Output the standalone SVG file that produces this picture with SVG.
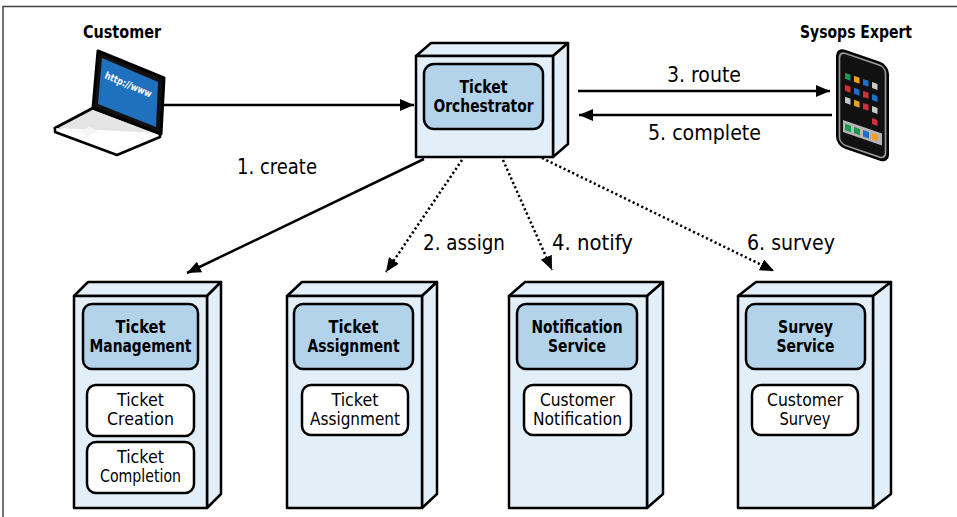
<svg xmlns="http://www.w3.org/2000/svg" width="957" height="517" viewBox="0 0 957 517">
  <defs>
    <style>
      .face { fill: #e3eff8; stroke: #000; stroke-width: 2.5; stroke-linejoin: round; }
      .hdr { fill: #b3d3ea; stroke: #000; stroke-width: 2.5; }
      .sub { fill: #fff; stroke: #000; stroke-width: 2.5; }
      .t { font-family: "DejaVu Sans Condensed", "DejaVu Sans", sans-serif; font-stretch: condensed; font-size: 18px; fill: #000; text-anchor: middle; }
      .s { font-size: 17px; }
      .b { font-weight: bold; }
      .lbl { font-family: "DejaVu Sans Condensed", "DejaVu Sans", sans-serif; font-stretch: condensed; font-size: 22px; fill: #000; }
      .conn { fill: none; stroke: #000; stroke-width: 2.5; }
      .dot { stroke-dasharray: 2.2 2.6; }
    </style>
    <marker id="arrow" viewBox="0 0 14 12" refX="14" refY="6" markerWidth="14" markerHeight="12" markerUnits="userSpaceOnUse" orient="auto">
      <path d="M0,0 L14,6 L0,12 Z" fill="#000"/>
    </marker>
  </defs>

  <rect width="957" height="517" fill="#fff"/>
  <!-- frame -->
  <path d="M3,517 V6.5 H957" fill="none" stroke="#444" stroke-width="1.5"/>

  <!-- Customer laptop -->
  <g id="customer">
    <text class="t b" x="122" y="38" textLength="78" lengthAdjust="spacingAndGlyphs">Customer</text>
    <path d="M93,108 L160,133 L117,151 L55,128 Z" fill="#e4e4e4" stroke="#000" stroke-width="3" stroke-linejoin="round"/>
    <path d="M55,128 L55,132 L117,155 L160,137 L160,133" fill="#fff" stroke="#000" stroke-width="2.5" stroke-linejoin="round"/>
    <path d="M77,132 L89,127 L99,131 L87,136 Z" fill="#f6f6f6"/>
    <path d="M98,51 L164,78 L161,134 L93,108 Z" fill="#111" stroke="#000" stroke-width="3" stroke-linejoin="round"/>
    <path d="M102,58 L158,82 L156,127 L98,104 Z" fill="#1f70bd"/>
    <text x="0" y="0" transform="translate(104,78) rotate(23)" font-family="DejaVu Sans Condensed, DejaVu Sans, sans-serif" font-size="10" font-weight="bold" fill="#fff" textLength="50" lengthAdjust="spacingAndGlyphs">http://www</text>
  </g>

  <!-- Sysops Expert phone -->
  <g id="sysops-expert">
    <text class="t b" x="856" y="38" textLength="112" lengthAdjust="spacingAndGlyphs">Sysops Expert</text>
    <g transform="translate(837,48) skewY(19)">
      <rect x="0" y="0" width="51" height="97" rx="8" fill="#111" stroke="#000" stroke-width="2"/>
      <rect x="2.5" y="2.5" width="46" height="92" rx="6" fill="none" stroke="#9a9a9a" stroke-width="1.6"/>
      <rect x="6" y="70" width="39" height="12" fill="#b5b5b5"/>
      <!-- row 1 -->
      <rect x="8" y="22" width="5.5" height="6" fill="#1a9a4a"/>
      <rect x="17" y="22" width="5.5" height="6" fill="#f0a020"/>
      <rect x="26" y="22" width="5.5" height="6" fill="#1c6fcb"/>
      <rect x="35" y="22" width="5.5" height="6" fill="#c8c8c8"/>
      <!-- row 2 -->
      <rect x="8" y="34" width="5.5" height="6" fill="#d0303a"/>
      <rect x="17" y="34" width="5.5" height="6" fill="#1c6fcb"/>
      <rect x="26" y="34" width="5.5" height="6" fill="#d0303a"/>
      <rect x="35" y="34" width="5.5" height="6" fill="#1c6fcb"/>
      <!-- row 3 -->
      <rect x="8" y="46" width="5.5" height="6" fill="#c8c8c8"/>
      <rect x="17" y="46" width="5.5" height="6" fill="#f0a020"/>
      <rect x="26" y="46" width="5.5" height="6" fill="#d0303a"/>
      <rect x="35" y="46" width="5.5" height="6" fill="#c8c8c8"/>
      <!-- row 4 -->
      <rect x="35" y="58" width="5.5" height="6" fill="#d0303a"/>
      <!-- dock -->
      <rect x="8" y="73" width="6" height="6.5" fill="#1a9a4a"/>
      <rect x="17" y="73" width="6" height="6.5" fill="#1a9a4a"/>
      <rect x="26" y="73" width="6" height="6.5" fill="#1c6fcb"/>
      <rect x="35" y="73" width="6" height="6.5" fill="#f0a020"/>
    </g>
  </g>

  <!-- Ticket Orchestrator -->
  <g id="ticket-orchestrator">
    <path class="face" d="M416,56 L431,43 L568,43 L553,56 Z"/>
    <path class="face" d="M553,56 L568,43 L568,144 L553,157 Z"/>
    <rect class="face" x="416" y="56" width="137" height="101"/>
    <rect class="hdr" x="424" y="64" width="119" height="65" rx="10"/>
    <text class="t b" x="483.5" y="93" textLength="48" lengthAdjust="spacingAndGlyphs">Ticket</text>
    <text class="t b" x="483.5" y="112" textLength="100" lengthAdjust="spacingAndGlyphs">Orchestrator</text>
  </g>

  <!-- Ticket Management -->
  <g id="ticket-management">
    <path class="face" d="M74,296 L88,282 L221,282 L207,296 Z"/>
    <path class="face" d="M207,296 L221,282 L221,494 L207,508 Z"/>
    <rect class="face" x="74" y="296" width="133" height="212"/>
    <rect class="hdr" x="83" y="304" width="115" height="65" rx="9"/>
    <text class="t b" x="140.5" y="333" textLength="50" lengthAdjust="spacingAndGlyphs">Ticket</text>
    <text class="t b" x="140.5" y="352" textLength="102" lengthAdjust="spacingAndGlyphs">Management</text>
    <rect class="sub" x="87" y="385" width="107" height="51" rx="9"/>
    <text class="t s" x="140.5" y="406" textLength="47" lengthAdjust="spacingAndGlyphs">Ticket</text>
    <text class="t s" x="140.5" y="425" textLength="67" lengthAdjust="spacingAndGlyphs">Creation</text>
    <rect class="sub" x="87" y="442" width="107" height="51" rx="9"/>
    <text class="t s" x="140.5" y="463" textLength="47" lengthAdjust="spacingAndGlyphs">Ticket</text>
    <text class="t s" x="140.5" y="482" textLength="81" lengthAdjust="spacingAndGlyphs">Completion</text>
  </g>

  <!-- Ticket Assignment -->
  <g id="ticket-assignment">
    <path class="face" d="M287,296 L302,282 L437,282 L422,296 Z"/>
    <path class="face" d="M422,296 L437,282 L437,494 L422,508 Z"/>
    <rect class="face" x="287" y="296" width="135" height="212"/>
    <rect class="hdr" x="294" y="304" width="119" height="65" rx="9"/>
    <text class="t b" x="353.5" y="333" textLength="50" lengthAdjust="spacingAndGlyphs">Ticket</text>
    <text class="t b" x="353.5" y="352" textLength="92" lengthAdjust="spacingAndGlyphs">Assignment</text>
    <rect class="sub" x="302" y="385" width="106" height="50" rx="9"/>
    <text class="t s" x="355" y="406" textLength="47" lengthAdjust="spacingAndGlyphs">Ticket</text>
    <text class="t s" x="355" y="425" textLength="90" lengthAdjust="spacingAndGlyphs">Assignment</text>
  </g>

  <!-- Notification Service -->
  <g id="notification-service">
    <path class="face" d="M509,296 L525,282 L663,282 L647,296 Z"/>
    <path class="face" d="M647,296 L663,282 L663,494 L647,508 Z"/>
    <rect class="face" x="509" y="296" width="138" height="212"/>
    <rect class="hdr" x="517" y="304" width="120" height="65" rx="9"/>
    <text class="t b" x="577" y="333" textLength="91" lengthAdjust="spacingAndGlyphs">Notification</text>
    <text class="t b" x="577" y="352" textLength="58" lengthAdjust="spacingAndGlyphs">Service</text>
    <rect class="sub" x="524" y="385" width="107" height="50" rx="9"/>
    <text class="t s" x="577.5" y="406" textLength="75" lengthAdjust="spacingAndGlyphs">Customer</text>
    <text class="t s" x="577.5" y="425" textLength="89" lengthAdjust="spacingAndGlyphs">Notification</text>
  </g>

  <!-- Survey Service -->
  <g id="survey-service">
    <path class="face" d="M738,296 L756,282 L891,282 L873,296 Z"/>
    <path class="face" d="M873,296 L891,282 L891,494 L873,508 Z"/>
    <rect class="face" x="738" y="296" width="135" height="212"/>
    <rect class="hdr" x="746" y="304" width="119" height="65" rx="9"/>
    <text class="t b" x="805.5" y="333" textLength="55" lengthAdjust="spacingAndGlyphs">Survey</text>
    <text class="t b" x="805.5" y="352" textLength="58" lengthAdjust="spacingAndGlyphs">Service</text>
    <rect class="sub" x="752" y="385" width="106" height="50" rx="9"/>
    <text class="t s" x="805" y="406" textLength="76" lengthAdjust="spacingAndGlyphs">Customer</text>
    <text class="t s" x="805" y="425" textLength="51" lengthAdjust="spacingAndGlyphs">Survey</text>
  </g>

  <!-- Connectors -->
  <g id="connectors">
    <path class="conn" d="M163,105 L414,105" marker-end="url(#arrow)"/>
    <path class="conn" d="M578,91 L830,91" marker-end="url(#arrow)"/>
    <path class="conn" d="M832,115 L579,115" marker-end="url(#arrow)"/>
    <path class="conn" d="M424,159 L187,273" marker-end="url(#arrow)"/>
    <path class="conn dot" d="M462,160 L386,272" marker-end="url(#arrow)"/>
    <path class="conn dot" d="M503,160 L552,270" marker-end="url(#arrow)"/>
    <path class="conn dot" d="M542,158 L774,271" marker-end="url(#arrow)"/>

    <text class="lbl" x="667" y="82" textLength="74" lengthAdjust="spacingAndGlyphs">3. route</text>
    <text class="lbl" x="648" y="140" textLength="113" lengthAdjust="spacingAndGlyphs">5. complete</text>
    <text class="lbl" x="237" y="174" textLength="80" lengthAdjust="spacingAndGlyphs">1. create</text>
    <text class="lbl" x="423" y="250" textLength="82" lengthAdjust="spacingAndGlyphs">2. assign</text>
    <text class="lbl" x="552" y="250" textLength="81" lengthAdjust="spacingAndGlyphs">4. notify</text>
    <text class="lbl" x="747" y="250" textLength="88" lengthAdjust="spacingAndGlyphs">6. survey</text>
  </g>
</svg>
